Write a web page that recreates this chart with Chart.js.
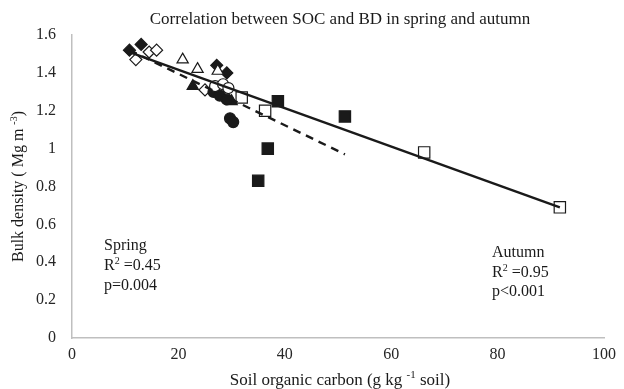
<!DOCTYPE html>
<html>
<head>
<meta charset="utf-8">
<script src="https://cdn.jsdelivr.net/npm/chart.js@4.4.1/dist/chart.umd.min.js"></script>
<style>
  html, body { margin: 0; padding: 0; background: #fff; }
  #wrap { width: 624px; height: 389px; }
</style>
</head>
<body>
<div id="wrap"><canvas id="socChart" width="624" height="389"></canvas></div>
<script>
// tick labels
const xTickLabels = ['0', '20', '40', '60', '80', '100'];
const yTickLabels = ['0', '0.2', '0.4', '0.6', '0.8', '1', '1.2', '1.4', '1.6'];

// spring (filled markers)
const springDiamondX = [10.8, 13.0, 27.2, 29.1];
const springDiamondY = [1.52, 1.55, 1.44, 1.40];
const springTriangleX = [22.7, 30.0];
const springTriangleY = [1.33, 1.25];
const springCircleX = [26.6, 27.8, 29.1, 29.7, 30.3];
const springCircleY = [1.30, 1.28, 1.26, 1.16, 1.14];
const springSquareX = [35.0, 36.8, 38.7, 51.3];
const springSquareY = [0.83, 1.00, 1.25, 1.17];

// autumn (open markers)
const autumnDiamondX = [12.0, 14.5, 15.9, 25.0];
const autumnDiamondY = [1.47, 1.51, 1.52, 1.31];
const autumnTriangleX = [20.8, 23.6, 27.4];
const autumnTriangleY = [1.47, 1.42, 1.41];
const autumnCircleX = [26.9, 28.4, 29.4];
const autumnCircleY = [1.33, 1.34, 1.32];
const autumnSquareX = [31.9, 36.3, 66.2, 91.7];
const autumnSquareY = [1.27, 1.20, 0.98, 0.69];

// trend lines
const springTrendX = [10.8, 51.3];
const springTrendY = [1.52, 0.97];
const autumnTrendX = [10.8, 91.7];
const autumnTrendY = [1.51, 0.69];

const serif = "'Liberation Serif', 'Times New Roman', serif";
const ink = '#1a1a1a';

function pts(xs, ys) {
    return xs.map((x, i) => ({ x: x, y: ys[i] }));
}

function markers(xs, ys, style, filled, radius) {
    return {
        data: pts(xs, ys),
        pointStyle: style,
        pointRadius: radius,
        pointBackgroundColor: filled ? ink : '#ffffff',
        pointBorderColor: ink,
        pointBorderWidth: 1.2,
        showLine: false
    };
}

// draw text with superscript parts
function richText(ctx, parts, x, y, align, size) {
    size = size || 16;
    const base = size + 'px ' + serif;
    const sup = Math.round(size * 0.62) + 'px ' + serif;
    let w = 0;
    parts.forEach(p => {
        ctx.font = p.sup ? sup : base;
        w += ctx.measureText(p.t).width;
    });
    let cx = align === 'center' ? x - w / 2 : x;
    ctx.textBaseline = 'middle';
    ctx.textAlign = 'left';
    parts.forEach(p => {
        ctx.font = p.sup ? sup : base;
        ctx.fillText(p.t, cx, p.sup ? y - size * 0.32 : y);
        cx += ctx.measureText(p.t).width;
    });
}

const textPlugin = {
    id: 'texts',
    afterDraw(chart) {
        const ctx = chart.ctx;
        const area = chart.chartArea;
        ctx.save();
        ctx.fillStyle = ink;

        richText(ctx, [{ t: 'Correlation between SOC and BD in spring and autumn' }], 340, 20, 'center', 17);
        richText(ctx, [{ t: 'Soil organic carbon (g kg ' }, { t: '-1', sup: true }, { t: ' soil)' }],
            (area.left + area.right) / 2 + 2, 381, 'center', 17);

        ctx.save();
        ctx.translate(19, (area.top + area.bottom) / 2);
        ctx.rotate(-Math.PI / 2);
        richText(ctx, [{ t: 'Bulk density ( Mg m ' }, { t: '-3', sup: true }, { t: ')' }], 0, 0, 'center', 16);
        ctx.restore();

        richText(ctx, [{ t: 'Spring' }], 104, 246, 'left');
        richText(ctx, [{ t: 'R' }, { t: '2', sup: true }, { t: ' =0.45' }], 104, 266, 'left');
        richText(ctx, [{ t: 'p=0.004' }], 104, 286, 'left');

        richText(ctx, [{ t: 'Autumn' }], 492, 253, 'left');
        richText(ctx, [{ t: 'R' }, { t: '2', sup: true }, { t: ' =0.95' }], 492, 273, 'left');
        richText(ctx, [{ t: 'p<0.001' }], 492, 292, 'left');
        ctx.restore();
    }
};

const config = {
    type: 'scatter',
    data: {
        datasets: [
            {
                data: pts(autumnTrendX, autumnTrendY),
                showLine: true,
                borderColor: ink,
                borderWidth: 2.4,
                pointRadius: 0
            },
            {
                data: pts(springTrendX, springTrendY),
                showLine: true,
                borderColor: ink,
                borderWidth: 2.4,
                borderDash: [8, 6],
                pointRadius: 0
            },
            markers(autumnSquareX, autumnSquareY, 'rect', false, 8),
            markers(springSquareX, springSquareY, 'rect', true, 8),
            markers(autumnCircleX, autumnCircleY, 'circle', false, 5.5),
            markers(springCircleX, springCircleY, 'circle', true, 5.5),
            markers(autumnTriangleX, autumnTriangleY, 'triangle', false, 6.5),
            markers(springTriangleX, springTriangleY, 'triangle', true, 6.5),
            markers(autumnDiamondX, autumnDiamondY, 'rectRot', false, 6),
            markers(springDiamondX, springDiamondY, 'rectRot', true, 6)
        ]
    },
    options: {
        responsive: false,
        animation: false,
        devicePixelRatio: 1,
        layout: { padding: { top: 35, right: 20, left: 0, bottom: 0 } },
        plugins: {
            legend: { display: false },
            tooltip: { enabled: false },
            title: { display: false }
        },
        scales: {
            x: {
                type: 'linear',
                min: 0,
                max: 100,
                grid: { display: false, drawTicks: false },
                border: { color: '#bfbfbf', width: 1.5 },
                ticks: {
                    stepSize: 20,
                    padding: 7,
                    color: '#262626',
                    font: { family: serif, size: 16 },
                    callback: (v, i) => xTickLabels[i]
                },
                afterFit: scale => { scale.height = 51; }
            },
            y: {
                type: 'linear',
                min: 0,
                max: 1.6,
                grid: { display: false, drawTicks: false },
                border: { color: '#bfbfbf', width: 1.5 },
                ticks: {
                    stepSize: 0.2,
                    padding: 16,
                    color: '#262626',
                    font: { family: serif, size: 16 },
                    callback: (v, i) => yTickLabels[i]
                },
                afterFit: scale => { scale.width = 72; }
            }
        }
    },
    plugins: [textPlugin]
};

new Chart(document.getElementById('socChart').getContext('2d'), config);
</script>
</body>
</html>
